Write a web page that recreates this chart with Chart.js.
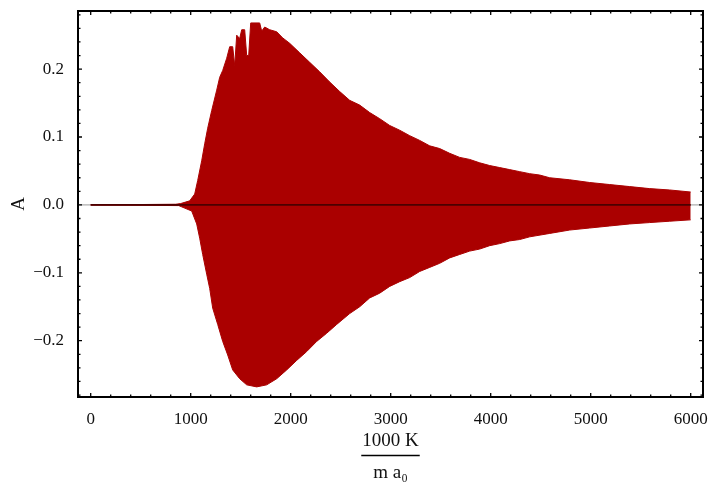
<!DOCTYPE html>
<html><head><meta charset="utf-8">
<script src="https://cdn.jsdelivr.net/npm/chart.js@4.4.0/dist/chart.umd.min.js"></script>
<style>html,body{margin:0;padding:0;background:#fff;}#wrap{width:710px;height:482px;}</style>
</head><body><div id="wrap"><canvas id="c" width="710" height="482"></canvas></div>
<script>
// ---- data ----
const xTicks = [0, 1000, 2000, 3000, 4000, 5000, 6000];
const yTicks = [-0.2, -0.1, 0, 0.1, 0.2];

const upperX = [0, 850, 900, 990, 1040, 1070, 1110, 1140, 1170, 1210, 1260, 1290, 1320, 1360, 1390, 1420, 1440, 1460, 1490, 1510, 1540, 1560, 1580, 1600, 1690, 1710, 1740, 1790, 1860, 1920, 1990, 2090, 2190, 2290, 2390, 2490, 2590, 2690, 2790, 2890, 2990, 3090, 3190, 3290, 3390, 3490, 3590, 3690, 3790, 3890, 3990, 4090, 4190, 4290, 4390, 4490, 4590, 4790, 4990, 5190, 5390, 5590, 5790, 6000];
const upperY = [0, 0.001, 0.002, 0.006, 0.016, 0.036, 0.065, 0.090, 0.113, 0.139, 0.169, 0.188, 0.198, 0.216, 0.233, 0.233, 0.205, 0.250, 0.245, 0.258, 0.258, 0.220, 0.220, 0.268, 0.268, 0.256, 0.262, 0.258, 0.255, 0.246, 0.238, 0.224, 0.210, 0.196, 0.181, 0.167, 0.154, 0.147, 0.136, 0.127, 0.117, 0.110, 0.102, 0.095, 0.087, 0.083, 0.076, 0.070, 0.067, 0.062, 0.058, 0.055, 0.052, 0.049, 0.046, 0.044, 0.040, 0.037, 0.033, 0.030, 0.027, 0.024, 0.022, 0.019];

const lowerX = [0, 880, 1010, 1060, 1090, 1120, 1160, 1190, 1220, 1270, 1320, 1370, 1420, 1490, 1560, 1660, 1760, 1860, 1960, 2060, 2160, 2260, 2360, 2460, 2590, 2690, 2790, 2890, 2990, 3090, 3190, 3290, 3390, 3490, 3590, 3690, 3790, 3890, 3990, 4090, 4190, 4290, 4390, 4590, 4790, 4990, 5190, 5390, 5590, 5790, 6000];
const lowerY = [0, -0.001, -0.009, -0.028, -0.049, -0.073, -0.102, -0.123, -0.152, -0.176, -0.201, -0.221, -0.243, -0.256, -0.265, -0.268, -0.265, -0.256, -0.243, -0.229, -0.216, -0.201, -0.189, -0.176, -0.160, -0.150, -0.137, -0.130, -0.120, -0.113, -0.107, -0.098, -0.092, -0.086, -0.078, -0.073, -0.068, -0.065, -0.060, -0.057, -0.053, -0.051, -0.047, -0.042, -0.037, -0.034, -0.031, -0.028, -0.026, -0.024, -0.022];

const zeroX = [0, 6000];
const zeroY = [0, 0];

const xTitle = ['1000 K', 'm a\u2080'];
const yTitle = 'A';

// ---- chart ----
const pts = (xs, ys) => xs.map((x, i) => ({x: x, y: ys[i]}));
const RED = 'rgb(170,0,0)';
const SERIF = '"Liberation Serif", "DejaVu Serif", serif';

const frameTicks = {
  id: 'frameTicks',
  beforeDatasetsDraw(chart) {
    const {ctx, chartArea: a, scales} = chart;
    const y0 = scales.y.getPixelForValue(0);
    ctx.save();
    ctx.strokeStyle = '#999';
    ctx.lineWidth = 1;
    ctx.beginPath();
    ctx.moveTo(a.left, y0); ctx.lineTo(a.right, y0);
    ctx.stroke();
    ctx.restore();
  },
  afterDraw(chart) {
    const {ctx, chartArea: a, scales} = chart;
    ctx.save();
    ctx.strokeStyle = '#000';
    ctx.lineWidth = 1.3;
    ctx.beginPath();
    for (let k = -14; k <= 14; k++) {
      const v = k * 0.02;
      const p = scales.y.getPixelForValue(v);
      if (p < a.top + 1 || p > a.bottom - 1) continue;
      const L = (k % 5 === 0) ? 4 : 2.5;
      ctx.moveTo(a.left, p); ctx.lineTo(a.left + L, p);
      ctx.moveTo(a.right, p); ctx.lineTo(a.right - L, p);
    }
    for (let k = -1; k <= 31; k++) {
      const v = k * 200;
      const p = scales.x.getPixelForValue(v);
      if (p < a.left + 1 || p > a.right - 1) continue;
      const L = (k % 5 === 0) ? 4 : 2.5;
      ctx.moveTo(p, a.bottom); ctx.lineTo(p, a.bottom - L);
      ctx.moveTo(p, a.top); ctx.lineTo(p, a.top + L);
    }
    ctx.stroke();
    ctx.lineWidth = 2;
    ctx.strokeRect(a.left, a.top, a.right - a.left, a.bottom - a.top);
    // fraction bar of the x-axis title
    ctx.font = '19px ' + SERIF;
    const w = ctx.measureText(xTitle[0]).width + 2;
    const cx = (a.left + a.right) / 2;
    ctx.lineWidth = 1.6;
    ctx.beginPath();
    ctx.moveTo(cx - w / 2, 455.5); ctx.lineTo(cx + w / 2, 455.5);
    ctx.stroke();
    ctx.restore();
  }
};

new Chart(document.getElementById('c'), {
  type: 'line',
  data: {
    datasets: [
      {data: pts(upperX, upperY), order: 2, fill: 'origin', backgroundColor: RED, borderColor: RED, borderWidth: 1, pointRadius: 0, tension: 0},
      {data: pts(lowerX, lowerY), order: 2, fill: 'origin', backgroundColor: RED, borderColor: RED, borderWidth: 1, pointRadius: 0, tension: 0},
      {data: pts(zeroX, zeroY), order: 0, fill: false, borderColor: 'rgb(75,0,0)', borderWidth: 1.6, pointRadius: 0}
    ]
  },
  options: {
    responsive: false,
    animation: false,
    devicePixelRatio: 1,
    layout: {padding: {top: 11, right: 7, left: 0, bottom: 0}},
    plugins: {legend: {display: false}, tooltip: {enabled: false}},
    scales: {
      x: {
        type: 'linear', min: -127, max: 6123,
        grid: {display: false}, border: {display: false},
        afterBuildTicks: s => { s.ticks = xTicks.map(v => ({value: v})); },
        afterFit: s => { s.height = 85; s.paddingLeft = 0; s.paddingRight = 0; s.paddingTop = 0; s.paddingBottom = 0; },
        ticks: {color: '#111', padding: 4, maxRotation: 0, autoSkip: false,
          font: {family: SERIF, size: 17}, callback: v => String(v)},
        title: {display: true, text: xTitle, color: '#111',
          font: {family: SERIF, size: 19, lineHeight: 32 / 19},
          padding: {top: 0, bottom: -6.6}}
      },
      y: {
        type: 'linear', min: -0.2829, max: 0.2856,
        grid: {display: false}, border: {display: false},
        afterBuildTicks: s => { s.ticks = yTicks.map(v => ({value: v})); },
        afterFit: s => { s.width = 78; s.paddingTop = 0; s.paddingBottom = 0; s.paddingLeft = 0; s.paddingRight = 0; },
        ticks: {color: '#111', padding: 6, autoSkip: false,
          font: {family: SERIF, size: 17},
          callback: v => (Math.abs(v) < 1e-9 ? '0.0' : v.toFixed(1).replace('-', '\u2212'))},
        title: {display: true, text: yTitle, color: '#111',
          font: {family: SERIF, size: 19, lineHeight: 1.2},
          padding: {top: 8, bottom: 0}}
      }
    }
  },
  plugins: [frameTicks]
});
</script></body></html>
